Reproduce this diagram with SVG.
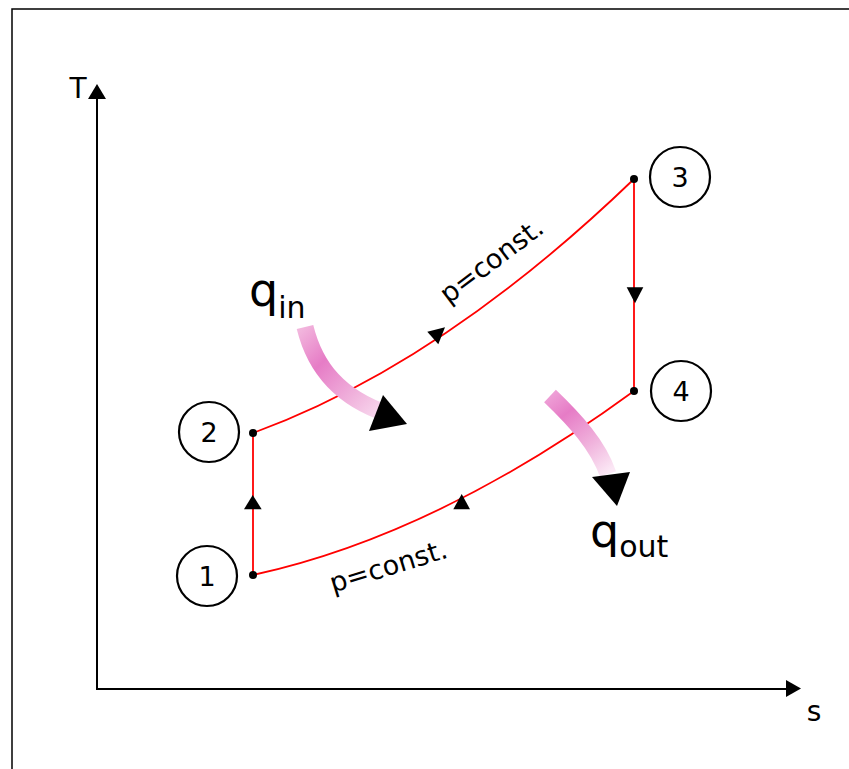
<svg xmlns="http://www.w3.org/2000/svg" width="849" height="769" viewBox="0 0 849 769">
<style>
.lbl{font-family:"DejaVu Sans","Liberation Sans",sans-serif;fill:#000}
.num{font-size:27px;text-anchor:middle}
.red{fill:none;stroke:#ff0000;stroke-width:1.8}
.ax{stroke:#000;stroke-width:2;fill:none}
.circ{fill:none;stroke:#000;stroke-width:2.2}
.pink{fill:none;stroke-width:17;stroke-linecap:butt}
</style>
<defs>
<linearGradient id="gIn" gradientUnits="userSpaceOnUse" x1="305" y1="325" x2="395" y2="418">
<stop offset="0" stop-color="#f2b6dd"/>
<stop offset="0.3" stop-color="#e67cc6"/>
<stop offset="0.65" stop-color="#f0b2dc"/>
<stop offset="1" stop-color="#fbe8f5"/>
</linearGradient>
<linearGradient id="gOut" gradientUnits="userSpaceOnUse" x1="551" y1="395" x2="608" y2="472">
<stop offset="0" stop-color="#ee9fd6"/>
<stop offset="0.25" stop-color="#e67cc6"/>
<stop offset="0.65" stop-color="#f0b2dc"/>
<stop offset="1" stop-color="#fbe8f5"/>
</linearGradient>
</defs>
<rect x="0" y="0" width="849" height="769" fill="#fff"/>
<rect x="12" y="9" width="850" height="780" fill="none" stroke="#000" stroke-width="1.5"/>

<g id="axes">
<line class="ax" x1="97" y1="98" x2="97" y2="689"/>
<line class="ax" x1="96" y1="689" x2="787" y2="689"/>
<polygon points="97,84 88,99 106,99" fill="#000"/>
<polygon points="801,688.5 786,680 786,697" fill="#000"/>
<text class="lbl" x="78" y="98" font-size="28" text-anchor="middle">T</text>
<text class="lbl" x="814" y="721" font-size="28" text-anchor="middle">s</text>
</g>

<g id="connectors">
<path class="red" d="M253,575 L253,433"/>
<path class="red" d="M253,433 Q442,364 634,179"/>
<path class="red" d="M634,179 L634,391"/>
<path class="red" d="M634,391 Q437,535 253,575"/>
<polygon points="244,509.3 252.7,495 261.7,509.3" fill="#000"/>
<polygon points="427.3,331.7 445,327.3 438.3,344.3" fill="#000"/>
<polygon points="626.7,287.3 643.3,287.3 635,303.3" fill="#000"/>
<polygon points="453.3,509.3 461.7,494 470,509.3" fill="#000"/>
<text class="lbl" font-size="27" text-anchor="middle" transform="translate(497,268) rotate(-37)">p=const.</text>
<text class="lbl" font-size="27" text-anchor="middle" transform="translate(391,575) rotate(-17)">p=const.</text>
</g>

<g id="node1">
<circle class="circ" cx="207" cy="576" r="30"/>
<circle cx="253" cy="575" r="4" fill="#000"/>
<text class="lbl num" x="207" y="586">1</text>
</g>
<g id="node2">
<circle class="circ" cx="209" cy="432" r="30"/>
<circle cx="253" cy="433" r="4" fill="#000"/>
<text class="lbl num" x="209" y="442">2</text>
</g>
<g id="node3">
<circle class="circ" cx="680" cy="177" r="30"/>
<circle cx="634" cy="179" r="4" fill="#000"/>
<text class="lbl num" x="680" y="187">3</text>
</g>
<g id="node4">
<circle class="circ" cx="681" cy="391" r="30"/>
<circle cx="634" cy="391" r="4" fill="#000"/>
<text class="lbl num" x="681" y="401">4</text>
</g>

<g id="qin">
<path class="pink" stroke="url(#gIn)" d="M305,327 C315,368 340,398 388,414"/>
<polygon points="369,431 383,395 407,424" fill="#000"/>
<text class="lbl" x="249" y="306" font-size="46">q<tspan font-size="30" dy="12">in</tspan></text>
</g>

<g id="qout">
<path class="pink" stroke="url(#gOut)" d="M550,396 C575,420 598,445 608,474"/>
<polygon points="592,477 630,472 617,506" fill="#000"/>
<text class="lbl" x="590" y="547" font-size="46">q<tspan font-size="30" dy="10">out</tspan></text>
</g>
</svg>
